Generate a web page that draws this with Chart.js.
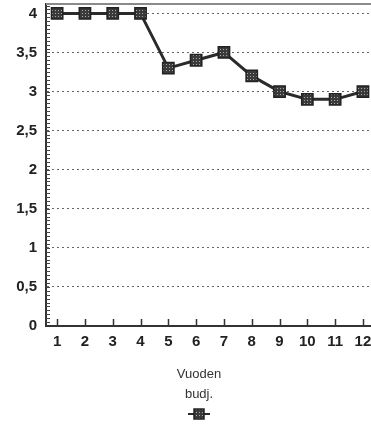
<!DOCTYPE html>
<html>
<head>
<meta charset="utf-8">
<script src="https://cdn.jsdelivr.net/npm/chart.js@4"></script>
<style>
  html, body { margin: 0; padding: 0; background: #fff; }
  #wrap { width: 371px; height: 425px; }
</style>
</head>
<body>
<div id="wrap"><canvas id="chart" width="371" height="425"></canvas></div>
<script>
// ── Data ──────────────────────────────────────────────────────
const months = [1, 2, 3, 4, 5, 6, 7, 8, 9, 10, 11, 12];
const budget = [4, 4, 4, 4, 3.3, 3.4, 3.5, 3.2, 3.0, 2.9, 2.9, 3.0];
const seriesLabel = 'Vuoden budj.';
const yTicks = [0, 0.5, 1, 1.5, 2, 2.5, 3, 3.5, 4];
const minorStep = 0.05;

const FONT = "'Liberation Sans', Arial, sans-serif";

// ── Point fill pattern (dark square with light dots) ──────────
function makePattern() {
  const c = document.createElement('canvas');
  c.width = 3; c.height = 3;
  const g = c.getContext('2d');
  g.fillStyle = '#3a3a3a';
  g.fillRect(0, 0, 3, 3);
  g.fillStyle = '#a8a8a8';
  g.fillRect(1, 1, 1, 1);
  return document.getElementById('chart').getContext('2d').createPattern(c, 'repeat');
}
const pointFill = makePattern();

// ── Extras: top frame, inside ticks, legend ───────────────────
const extras = {
  id: 'extras',
  beforeDatasetsDraw(chart) {
    const { ctx, chartArea: a, scales: { x, y } } = chart;
    ctx.save();
    // top frame line
    ctx.strokeStyle = '#8a8a8a';
    ctx.lineWidth = 2;
    ctx.beginPath();
    ctx.moveTo(a.left, a.top);
    ctx.lineTo(a.right, a.top);
    ctx.stroke();
    // minor ticks on y axis
    ctx.strokeStyle = '#444';
    ctx.lineWidth = 1;
    ctx.beginPath();
    for (let v = minorStep; v < y.max; v += minorStep) {
      const py = Math.round(y.getPixelForValue(v)) + 0.5;
      ctx.moveTo(a.left, py);
      ctx.lineTo(a.left + 4, py);
    }
    ctx.stroke();
    // x ticks pointing up
    ctx.strokeStyle = '#333';
    ctx.lineWidth = 1.5;
    ctx.beginPath();
    months.forEach(m => {
      const px = Math.round(x.getPixelForValue(m)) + 0.5;
      ctx.moveTo(px, a.bottom);
      ctx.lineTo(px, a.bottom - 7);
    });
    ctx.stroke();
    ctx.restore();
  },
  afterDraw(chart) {
    const { ctx, chartArea: a } = chart;
    const cx = 199;
    ctx.save();
    ctx.fillStyle = '#333';
    ctx.font = '13px ' + FONT;
    ctx.textAlign = 'center';
    ctx.textBaseline = 'middle';
    const words = chart.data.datasets[0].label.split(' ');
    words.forEach((w, i) => ctx.fillText(w, cx, a.bottom + 48 + i * 20));
    // legend marker
    const my = a.bottom + 48 + words.length * 20;
    ctx.strokeStyle = '#2b2b2b';
    ctx.lineWidth = 2;
    ctx.beginPath();
    ctx.moveTo(cx - 11, my);
    ctx.lineTo(cx + 11, my);
    ctx.stroke();
    ctx.fillStyle = pointFill;
    ctx.fillRect(cx - 5, my - 5, 10, 10);
    ctx.strokeStyle = '#222';
    ctx.lineWidth = 1.5;
    ctx.strokeRect(cx - 5, my - 5, 10, 10);
    ctx.restore();
  }
};

new Chart(document.getElementById('chart'), {
  type: 'line',
  data: {
    datasets: [{
      label: seriesLabel,
      data: months.map((m, i) => ({ x: m, y: budget[i] })),
      borderColor: '#2b2b2b',
      borderWidth: 3,
      pointStyle: 'rect',
      pointRadius: 8,
      pointBackgroundColor: pointFill,
      pointBorderColor: '#222',
      pointBorderWidth: 1.5,
      tension: 0,
      clip: false,
    }]
  },
  options: {
    responsive: false,
    animation: false,
    devicePixelRatio: 1,
    layout: { padding: { top: 4, left: 0, right: 0, bottom: 74 }, autoPadding: false },
    plugins: {
      legend: { display: false },
      tooltip: { enabled: false },
    },
    scales: {
      x: {
        type: 'linear',
        min: 0.6,
        max: 12.29,
        afterBuildTicks: axis => { axis.ticks = months.map(v => ({ value: v })); },
        afterFit: axis => {
          axis.height = 25;
          axis.paddingLeft = 0;
          axis.paddingRight = 0;
        },
        grid: { display: false, drawTicks: false },
        border: { display: true, color: '#333', width: 2 },
        ticks: {
          padding: 7,
          color: '#222',
          font: { family: FONT, size: 15, weight: 'bold' },
          maxRotation: 0,
        },
      },
      y: {
        min: 0,
        max: 4.12,
        afterBuildTicks: axis => { axis.ticks = yTicks.map(v => ({ value: v })); },
        afterFit: axis => {
          axis.width = 46;
          axis.paddingTop = 0;
          axis.paddingBottom = 0;
        },
        grid: { color: '#666', lineWidth: 1, drawTicks: false },
        border: { display: true, color: '#333', width: 2, dash: [2, 3] },
        ticks: {
          padding: 9,
          color: '#222',
          font: { family: FONT, size: 15, weight: 'bold' },
          callback: v => String(v).replace('.', ','),
        },
      },
    },
  },
  plugins: [extras],
});
</script>
</body>
</html>
